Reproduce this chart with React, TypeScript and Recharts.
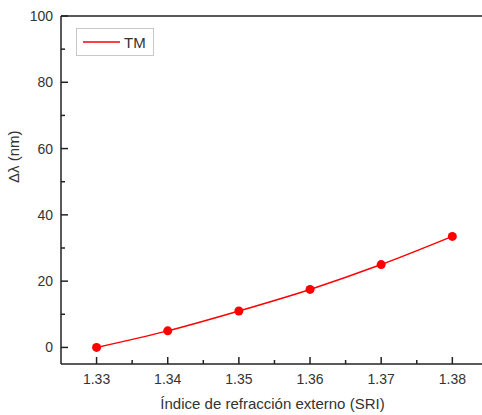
import React from "react";
import { LineChart, Line, XAxis, YAxis, Legend } from "recharts";

// Δλ vs external refractive index (TM mode)
const sri = [1.33, 1.34, 1.35, 1.36, 1.37, 1.38];
const deltaLambda = [0, 5, 11, 17.5, 25, 33.5];

const xMajorTicks = [1.33, 1.34, 1.35, 1.36, 1.37, 1.38];
const xMinorTicks = [1.335, 1.345, 1.355, 1.365, 1.375];
const yMajorTicks = [0, 20, 40, 60, 80, 100];
const yMinorTicks = [10, 30, 50, 70, 90];

const data = sri.map((x, i) => ({ sri: x, tm: deltaLambda[i] }));

const FONT = "'Liberation Sans', Arial, sans-serif";
const AXIS = "#222";
const TEXT = "#333";
// plot runs past the right edge of the page, like the cropped original
const X_DOMAIN = [1.325, 1.3867];

const isMajor = (v: number, majors: number[]) => majors.some((m) => Math.abs(m - v) < 1e-6);

const XTick = (props: any) => {
    const { x, y, payload } = props;
    const major = isMajor(payload.value, xMajorTicks);
    return (
        <g>
            <line x1={x} x2={x} y1={y} y2={y - (major ? 7 : 4)} stroke={AXIS} strokeWidth={1.5} />
            {major && (
                <text x={x} y={y + 20} textAnchor="middle" fontSize={14} fontFamily={FONT} fill={TEXT}>
                    {payload.value.toFixed(2)}
                </text>
            )}
        </g>
    );
};

const YTick = (props: any) => {
    const { x, y, payload } = props;
    const major = isMajor(payload.value, yMajorTicks);
    return (
        <g>
            <line x1={x} x2={x + (major ? 7 : 4)} y1={y} y2={y} stroke={AXIS} strokeWidth={1.5} />
            {major && (
                <text x={x - 8} y={y + 5} textAnchor="end" fontSize={14} fontFamily={FONT} fill={TEXT}>
                    {payload.value}
                </text>
            )}
        </g>
    );
};

const LegendBox = () => (
    <div
        style={{
            display: "flex",
            alignItems: "center",
            border: "1px solid #c8c8c8",
            height: 26,
            padding: "0 7px 0 6px",
            fontFamily: FONT,
            fontSize: 15,
            color: TEXT,
            background: "#fff",
        }}
    >
        <svg width={37} height={4} style={{ marginRight: 4 }}>
            <line x1={0} x2={37} y1={2} y2={2} stroke="#ff0000" strokeWidth={1.5} />
        </svg>
        <span>TM</span>
    </div>
);

const App = () => {
    return (
        <div style={{ position: "absolute", left: 0, top: 0, background: "#fff", width: 482, height: 415, overflow: "hidden" }}>
            <style>{`html, body { margin: 0; overflow: hidden; }`}</style>
            <LineChart width={500} height={415} data={data} margin={{ top: 0, right: 0, left: 0, bottom: 0 }}>
                <XAxis
                    dataKey="sri"
                    type="number"
                    domain={X_DOMAIN}
                    allowDataOverflow
                    ticks={[...xMajorTicks, ...xMinorTicks]}
                    interval={0}
                    height={51}
                    tickSize={0}
                    tickMargin={0}
                    tickLine={false}
                    tick={<XTick />}
                    axisLine={{ stroke: AXIS, strokeWidth: 1.5 }}
                    label={{
                        value: "Índice de refracción externo (SRI)",
                        position: "insideBottom",
                        offset: 6,
                        dx: -8,
                        fontSize: 15,
                        fontFamily: FONT,
                        fill: TEXT,
                    }}
                />
                <XAxis
                    xAxisId="top"
                    orientation="top"
                    dataKey="sri"
                    type="number"
                    domain={X_DOMAIN}
                    allowDataOverflow
                    height={16}
                    tick={false}
                    tickLine={false}
                    axisLine={{ stroke: AXIS, strokeWidth: 1.5 }}
                />
                <YAxis
                    type="number"
                    domain={[-5, 100]}
                    ticks={[...yMajorTicks, ...yMinorTicks]}
                    interval={0}
                    width={61}
                    tickSize={0}
                    tickMargin={0}
                    tickLine={false}
                    tick={<YTick />}
                    axisLine={{ stroke: AXIS, strokeWidth: 1.5 }}
                    label={{
                        value: "Δλ (nm)",
                        angle: -90,
                        position: "insideLeft",
                        offset: 14,
                        dy: -7,
                        fontSize: 15,
                        fontFamily: FONT,
                        fill: TEXT,
                    }}
                />
                <Legend
                    layout="horizontal"
                    verticalAlign="middle"
                    align="center"
                    content={<LegendBox />}
                    wrapperStyle={{ position: "absolute", left: 76, top: 28, width: "auto" }}
                />
                <Line
                    type="monotone"
                    dataKey="tm"
                    name="TM"
                    stroke="#ff0000"
                    strokeWidth={1.5}
                    dot={{ r: 4.5, fill: "#ff0000", stroke: "none" }}
                    isAnimationActive={false}
                />
            </LineChart>
        </div>
    );
};

export default App;
